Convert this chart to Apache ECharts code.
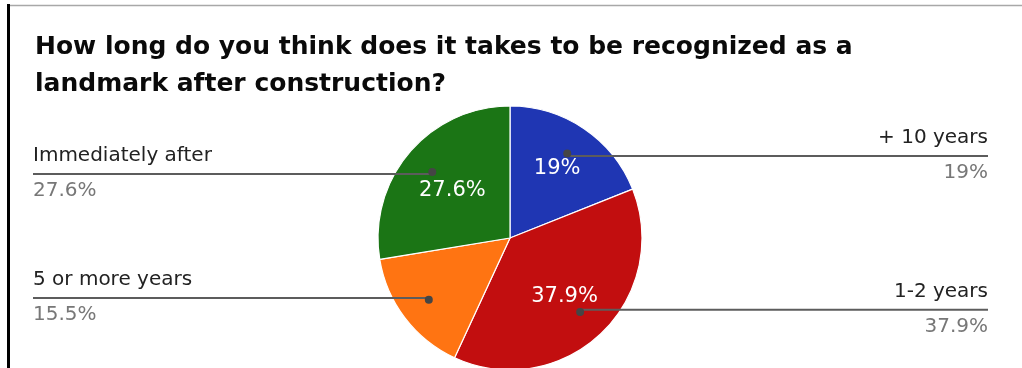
<!DOCTYPE html>
<html>
<head>
<meta charset="utf-8">
<script src="https://cdn.jsdelivr.net/npm/echarts@6/dist/echarts.min.js"></script>
<style>
  html, body { margin: 0; padding: 0; background: #fff; }
  #chart { width: 1022px; height: 368px; }
</style>
</head>
<body>
<div id="chart"></div>
<script>
// Survey answers: how long before a new building becomes a landmark
const titleLines = [
  'How long do you think does it takes to be recognized as a',
  'landmark after construction?'
];
const categories = ['+ 10 years', '1-2 years', '5 or more years', 'Immediately after'];
const responses = [11, 22, 9, 16];
const sliceColors = ['#1f36b3', '#c20e0f', '#ff7412', '#1b7515'];
// slices whose share is printed inside the pie
const showInside = [true, true, false, true];
// small nudges of the inside share labels, in pixels
const insideLabelNudge = [[1, -1], [-2, -1], [0, 0], [5, 6]];

const FONT = '"DejaVu Sans", "Liberation Sans", Arial, sans-serif';
const W = 1022, H = 368;
const CX = 510, CY = 238, R = 132;

const chart = echarts.init(document.getElementById('chart'), null, { renderer: 'canvas', width: W, height: H });

const baseData = categories.map((name, i) => ({ name, value: responses[i] }));
const pct = p => p.percent + '%';

const common = {
  type: 'pie',
  center: [CX, CY],
  startAngle: 90,
  clockwise: true,
  percentPrecision: 1,
  avoidLabelOverlap: false,
  animation: false,
  silent: true
};

chart.setOption({
  backgroundColor: '#ffffff',
  title: {
    text: titleLines.join('\n'),
    left: 35,
    top: 29,
    padding: 0,
    textStyle: {
      fontFamily: FONT,
      fontWeight: 'bold',
      fontSize: 25,
      lineHeight: 37,
      color: '#0a0a0a'
    }
  },
  graphic: [
    { type: 'rect', shape: { x: 7, y: 4, width: 3, height: H - 4 }, style: { fill: '#000' }, silent: true },
    { type: 'line', shape: { x1: 10, y1: 5.5, x2: W, y2: 5.5 }, style: { stroke: '#a8a8a8', lineWidth: 1.5 }, silent: true }
  ],
  series: [
    // the slices themselves
    Object.assign({}, common, {
      name: 'slices',
      z: 1,
      radius: [0, R],
      data: baseData.map((d, i) => ({ ...d, itemStyle: { color: sliceColors[i] } })),
      itemStyle: { borderColor: '#ffffff', borderWidth: 1.2 },
      label: { show: false },
      labelLine: { show: false }
    }),
    // callout lines with category name above and share below
    Object.assign({}, common, {
      name: 'callouts',
      z: 3,
      radius: [0, R * 0.75],
      data: baseData,
      itemStyle: { color: 'rgba(0,0,0,0)' },
      label: {
        show: true,
        position: 'outside',
        formatter: p => '{n|' + p.name + '}\n{v|' + pct(p) + '}',
        rich: {
          n: { fontFamily: FONT, fontSize: 20, color: '#222', lineHeight: 37 },
          v: { fontFamily: FONT, fontSize: 20, color: '#777', lineHeight: 34 }
        }
      },
      labelLine: {
        show: true,
        length: 10,
        length2: 10,
        lineStyle: { color: '#5c5c5c', width: 2 }
      },
      labelLayout: function (params) {
        const pts = params.labelLinePoints;
        if (!pts) return { hideOverlap: false };
        const p0 = pts[0];
        const right = p0[0] >= CX;
        const edgeX = right ? 988 : 33;
        return {
          hideOverlap: false,
          x: edgeX,
          y: p0[1] - 37,
          align: right ? 'right' : 'left',
          verticalAlign: 'top',
          labelLinePoints: [[p0[0], p0[1]], [(p0[0] + edgeX) / 2, p0[1]], [edgeX, p0[1]]]
        };
      }
    }),
    // shares printed inside the slices
    Object.assign({}, common, {
      name: 'shares',
      z: 4,
      radius: [R * 0.2, R],
      data: baseData.map((d, i) => ({
        ...d,
        label: { show: showInside[i], offset: insideLabelNudge[i] }
      })),
      itemStyle: { color: 'rgba(0,0,0,0)' },
      label: {
        show: true,
        position: 'inside',
        formatter: pct,
        fontFamily: FONT,
        fontSize: 21,
        color: '#ffffff'
      },
      labelLine: { show: false },
      labelLayout: { hideOverlap: false }
    }),
    // anchor dots where the callout lines start
    Object.assign({}, common, {
      name: 'anchors',
      z: 5,
      radius: [R * 0.5, R],
      data: baseData,
      itemStyle: { color: 'rgba(0,0,0,0)' },
      label: {
        show: true,
        position: 'inside',
        formatter: '{d| }',
        rich: {
          d: { width: 8, height: 8, borderRadius: 4, backgroundColor: '#454545', fontSize: 1, lineHeight: 8 }
        }
      },
      labelLine: { show: false },
      labelLayout: { hideOverlap: false }
    })
  ]
});
</script>
</body>
</html>
